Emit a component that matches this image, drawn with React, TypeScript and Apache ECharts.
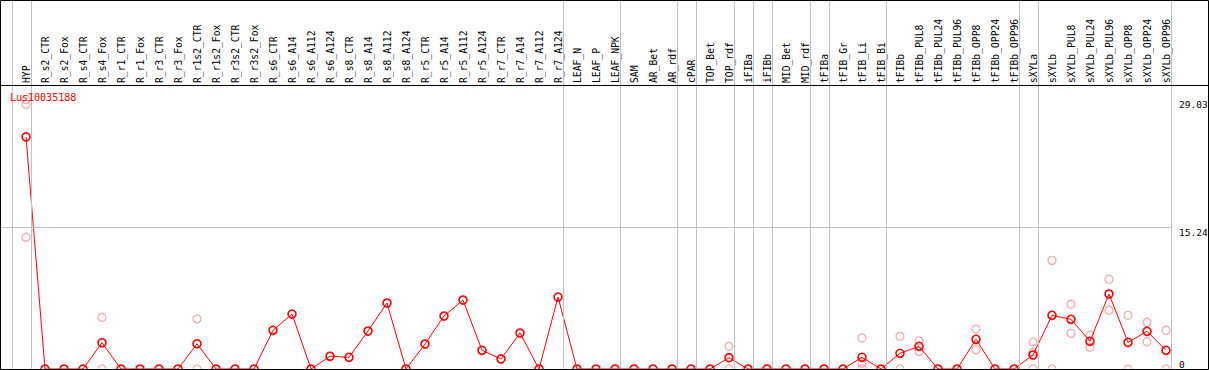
import React, { useEffect, useRef } from "react";
import * as echarts from "echarts";

const geneName = "Lus10035188";

const categories = [
  "HYP", "R_s2_CTR", "R_s2_Fox", "R_s4_CTR", "R_s4_Fox", "R_r1_CTR", "R_r1_Fox", "R_r3_CTR", "R_r3_Fox",
  "R_r1s2_CTR", "R_r1s2_Fox", "R_r3s2_CTR", "R_r3s2_Fox", "R_s6_CTR", "R_s6_A14", "R_s6_A112", "R_s6_A124",
  "R_s8_CTR", "R_s8_A14", "R_s8_A112", "R_s8_A124", "R_r5_CTR", "R_r5_A14", "R_r5_A112", "R_r5_A124",
  "R_r7_CTR", "R_r7_A14", "R_r7_A112", "R_r7_A124", "LEAF_N", "LEAF_P", "LEAF_NPK", "SAM", "AR_Bet", "AR_rdf",
  "cPAR", "TOP_Bet", "TOP_rdf", "iFIBa", "iFIBb", "MID_Bet", "MID_rdf", "tFIBa", "tFIB_Gr", "tFIB_Li", "tFIB_Bi",
  "tFIBb", "tFIBb_PUL8", "tFIBb_PUL24", "tFIBb_PUL96", "tFIBb_OPP8", "tFIBb_OPP24", "tFIBb_OPP96", "sXYLa",
  "sXYLb", "sXYLb_PUL8", "sXYLb_PUL24", "sXYLb_PUL96", "sXYLb_OPP8", "sXYLb_OPP24", "sXYLb_OPP96",
];

const meanValues = [
  25.0, 0, 0, 0, 2.83, 0, 0, 0, 0,
  2.72, 0, 0, 0, 4.17, 5.92, 0, 1.37,
  1.26, 4.09, 7.11, 0, 2.69, 5.71, 7.43, 2.01,
  1.08, 3.88, 0, 7.75, 0, 0, 0, 0, 0, 0,
  0, 0, 1.22, 0, 0, 0, 0, 0, 0, 1.26, 0,
  1.69, 2.44, 0, 0, 3.2, 0, 0, 1.51,
  5.78, 5.35, 2.98, 8.08, 2.87, 4.06, 2.01,
];

const replicates: [string, number[]][] = [
  ["HYP", [29.03, 28.5, 14.2]],
  ["R_s4_Fox", [5.57, 0]],
  ["R_r1s2_CTR", [5.39, 0]],
  ["TOP_rdf", [2.44, 0]],
  ["tFIB_Li", [3.34, 0.61, 0]],
  ["tFIBb", [3.52, 0]],
  ["tFIBb_PUL8", [3.02, 1.9]],
  ["tFIBb_OPP8", [4.31, 2.08]],
  ["sXYLa", [2.91, 1.8, 0]],
  ["sXYLb", [11.7, 0]],
  ["sXYLb_PUL8", [6.97, 3.84]],
  ["sXYLb_PUL24", [3.66, 2.34]],
  ["sXYLb_PUL96", [9.66, 6.32]],
  ["sXYLb_OPP8", [5.78, 0]],
  ["sXYLb_OPP24", [5.03, 2.94]],
  ["sXYLb_OPP96", [4.17, 0]],
];

const yTickValues = [0, 15.24, 29.03];
const yGridValues = [15.24];
// index of the last category of each group (-1 = left edge)
const groupEnds = [-1, 0, 28, 31, 34, 35, 37, 38, 39, 41, 42, 45, 52, 53, 60];

// ---- layout constants ----
const W = 1209;
const H = 370;
const FONT = "'DejaVu Sans Mono', monospace";
const firstX = 26;
const step = 19;
const lastX = firstX + step * (categories.length - 1);
const gridLeft = 1;
const gridRight = 38;
const baseY = 369;
const plotTop = 86;
const headerY = 85;
const yDataMax = Math.max(...yTickValues) * 1.05;
const pxPerUnit = (baseY - plotTop) / yDataMax;
const yMax = baseY / pxPerUnit;
const xMin = -(firstX - gridLeft) / step;
const xMax = categories.length - 1 + (W - gridRight - lastX) / step;
const sepOffset = 0.25;

export default function App() {
  const ref = useRef<HTMLDivElement>(null);

  useEffect(() => {
    document.body.style.margin = "0";
    if (!ref.current) return;
    const chart = echarts.init(ref.current, undefined, { renderer: "svg" });

    const repData: number[][] = [];
    replicates.forEach(([name, vals]) => {
      const i = categories.indexOf(name);
      vals.forEach((v) => repData.push([i, v]));
    });

    const yAxisBase = {
      type: "value" as const,
      min: 0,
      max: yMax,
      position: "right" as const,
      axisLine: { show: false },
      axisTick: { show: false },
      splitLine: { show: false },
    };

    chart.setOption({
      animation: false,
      backgroundColor: "#ffffff",
      title: {
        text: geneName,
        left: 10,
        top: 92,
        padding: 0,
        textStyle: { color: "#ff0000", fontSize: 10, fontWeight: "normal", fontFamily: FONT },
      },
      grid: {
        left: gridLeft,
        right: gridRight,
        top: 0,
        bottom: H - baseY,
        containLabel: false,
        outerBoundsMode: "none",
      },
      xAxis: [
        {
          type: "value",
          min: xMin,
          max: xMax,
          position: "top",
          offset: -headerY,
          axisLine: { show: false },
          axisTick: { show: false },
          splitLine: { show: false },
          axisLabel: {
            customValues: categories.map((_, i) => i),
            formatter: (v: number) => categories[Math.round(v)] ?? "",
            rotate: 90,
            margin: 2,
            fontSize: 9.7,
            fontFamily: FONT,
            color: "#000000",
            hideOverlap: false,
          },
        },
      ],
      yAxis: [
        {
          ...yAxisBase,
          axisLabel: {
            customValues: yTickValues.filter((v) => v > 0),
            formatter: (v: number) => String(v),
            verticalAlign: "top",
            margin: 8,
            fontSize: 9.5,
            fontFamily: FONT,
            color: "#000000",
          },
        },
        {
          ...yAxisBase,
          axisLabel: {
            customValues: yTickValues.filter((v) => v === 0),
            formatter: (v: number) => String(v),
            verticalAlign: "bottom",
            margin: 8,
            fontSize: 9.5,
            fontFamily: FONT,
            color: "#000000",
          },
        },
      ],
      series: [
        {
          type: "scatter",
          name: "replicates",
          z: 1,
          clip: false,
          symbol: "circle",
          symbolSize: 8,
          itemStyle: { color: "rgba(0,0,0,0)", borderColor: "#ee9999", borderWidth: 1.3 },
          data: repData,
          markLine: {
            silent: true,
            symbol: "none",
            label: { show: false },
            lineStyle: { color: "#c0c0c0", width: 1, type: "solid" },
            data: [
              ...groupEnds.map((g) => ({ xAxis: g + sepOffset })),
              ...yGridValues.map((v) => ({ yAxis: v })),
            ],
          },
        },
        {
          type: "line",
          name: "mean",
          z: 3,
          clip: false,
          symbol: "circle",
          symbolSize: 8,
          lineStyle: { color: "#ff0000", width: 1 },
          itemStyle: { color: "rgba(0,0,0,0)", borderColor: "#ff0000", borderWidth: 1.6 },
          data: meanValues.map((v, i) => [i, v]),
        },
      ],
      graphic: [
        {
          type: "rect",
          silent: true,
          z: 100,
          shape: { x: 0.5, y: 0.5, width: W - 1, height: baseY },
          style: { fill: "none", stroke: "#000000", lineWidth: 1 },
        },
        {
          type: "line",
          silent: true,
          z: 100,
          shape: { x1: 0, y1: headerY + 0.5, x2: W, y2: headerY + 0.5 },
          style: { stroke: "#000000", lineWidth: 1 },
        },
      ],
    });

    return () => chart.dispose();
  }, []);

  return <div ref={ref} style={{ width: W, height: H }} />;
}
